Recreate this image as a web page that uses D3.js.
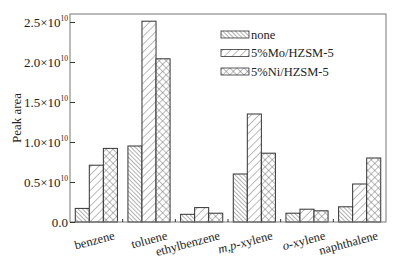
<!DOCTYPE html>
<html><head><meta charset="utf-8">
<script src="https://cdn.jsdelivr.net/npm/d3@7"></script>
<style>body{margin:0;background:#fff}svg{display:block}text{font-family:"Liberation Serif","Times New Roman",serif;fill:#222}</style>
</head><body><svg id="c" width="399" height="259"></svg>
<script>
const categories = ["benzene","toluene","ethylbenzene","m,p-xylene","o-xylene","naphthalene"];
const series = ["none","5%Mo/HZSM-5","5%Ni/HZSM-5"];
const noneVals = [0.17, 0.95, 0.096, 0.60, 0.11, 0.19];
const moVals   = [0.71, 2.51, 0.18, 1.35, 0.16, 0.475];
const niVals   = [0.92, 2.04, 0.11, 0.86, 0.14, 0.80];
const yTicks = [0, 0.5, 1.0, 1.5, 2.0, 2.5];
const yTickLabels = ["0.0","0.5×10","1.0×10","1.5×10","2.0×10","2.5×10"];

const values = [noneVals, moVals, niVals];
const svg = d3.select("#c");
const L=70, R=386, T=14, B=222;
const x0 = d3.scaleBand().domain(categories).range([L,R]).paddingInner(0).paddingOuter(0);
const bw = x0.bandwidth();
const x1 = d3.scaleBand().domain(series).range([0.1*bw, 0.9*bw]);
const y = d3.scaleLinear().domain([0,2.6]).range([B,T]);

const defs = svg.append("defs");
function hatch(id, spacing, angles, sw){
  const p = defs.append("pattern").attr("id",id).attr("patternUnits","userSpaceOnUse")
    .attr("width",spacing).attr("height",spacing).attr("patternTransform","rotate("+angles[0]+")");
  p.append("rect").attr("width",spacing).attr("height",spacing).attr("fill","#fff");
  p.append("line").attr("x1",0).attr("y1",0).attr("x2",0).attr("y2",spacing).attr("stroke","#555").attr("stroke-width",sw);
  if(angles.length>1){
    p.append("line").attr("x1",0).attr("y1",0).attr("x2",spacing).attr("y2",0).attr("stroke","#555").attr("stroke-width",sw);
  }
}
hatch("pNone",3,[-45],0.9);
hatch("pMo",5.5,[45],0.8);
hatch("pNi",5,[45,1],0.8);
const fills = ["url(#pNone)","url(#pMo)","url(#pNi)"];

// bars
series.forEach((s,si)=>{
  svg.append("g").selectAll("rect").data(categories).join("rect")
    .attr("x",c=>x0(c)+x1(s)).attr("width",x1.bandwidth())
    .attr("y",(c,i)=>y(values[si][i])).attr("height",(c,i)=>B-y(values[si][i]))
    .attr("fill",fills[si]).attr("stroke","#333").attr("stroke-width",1);
});

// frame
svg.append("rect").attr("x",L).attr("y",T).attr("width",R-L).attr("height",B-T)
  .attr("fill","none").attr("stroke","#777").attr("stroke-width",1);

// y axis
const yAxis = d3.axisLeft(y).tickValues(yTicks).tickSize(-5).tickFormat("");
const gy = svg.append("g").attr("transform",`translate(${L},0)`).call(yAxis);
gy.select(".domain").remove();
gy.selectAll(".tick line").attr("stroke","#333");
yTicks.forEach((t,i)=>{
  const tx = svg.append("text").attr("x",68).attr("y",y(t)+4.5).attr("text-anchor","end").attr("font-size",13);
  tx.append("tspan").text(yTickLabels[i]);
  if(i>0) tx.append("tspan").attr("font-size",7.5).attr("dy",-5.5).text("10");
});

// x boundary ticks
const bounds = categories.slice(1).map(c=>x0(c));
svg.append("g").selectAll("line").data(bounds).join("line")
  .attr("x1",d=>d).attr("x2",d=>d).attr("y1",B).attr("y2",B-3).attr("stroke","#333");

// x labels
categories.forEach(c=>{
  const cx = x0(c)+bw/2+19;
  const t = svg.append("text").attr("font-size",12.5).attr("text-anchor","end")
    .attr("transform",`translate(${cx},239) rotate(-15)`);
  if(c==="m,p-xylene"){
    t.append("tspan").attr("font-style","italic").text("m");
    t.append("tspan").text(",");
    t.append("tspan").attr("font-style","italic").text("p");
    t.append("tspan").text("-xylene");
  } else if(c==="o-xylene"){
    t.append("tspan").attr("font-style","italic").text("o");
    t.append("tspan").text("-xylene");
  } else t.text(c);
});

// y title
svg.append("text").attr("font-size",13).attr("text-anchor","middle")
  .attr("transform",`translate(21,${(T+B)/2}) rotate(-90)`).text("Peak area");

// legend
series.forEach((s,i)=>{
  const ly = 31 + i*18.5;
  svg.append("rect").attr("x",221).attr("y",ly).attr("width",28).attr("height",7)
    .attr("fill",fills[i]).attr("stroke","#333").attr("stroke-width",0.8);
  svg.append("text").attr("x",251).attr("y",ly+7.5).attr("font-size",12.5).text(s);
});
</script></body></html>
